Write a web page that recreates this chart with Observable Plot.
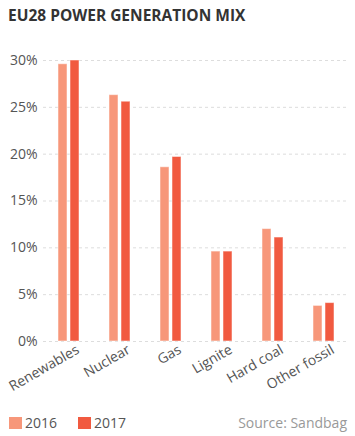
<!DOCTYPE html>
<html>
<head>
<meta charset="utf-8">
<script src="https://cdn.jsdelivr.net/npm/d3@7"></script>
<script src="https://cdn.jsdelivr.net/npm/@observablehq/plot@0.6"></script>
<style>
  body { margin: 0; background: #fff; font-family: "Open Sans", "Noto Sans", sans-serif; }
  #wrap { width: 355px; height: 436px; position: relative; overflow: hidden; }
  #title { position: absolute; left: 8px; top: 4px; font-size: 15.5px; font-weight: 700; color: #333; letter-spacing: 0; }
  #chart { position: absolute; left: 0; top: 30px; }
  #legend { position: absolute; left: 9px; top: 413px; width: 338px; font-size: 14px; color: #555; display: flex; align-items: center; }
  .sw { display: inline-block; width: 13px; height: 12px; margin-right: 3px; }
  .item { display: inline-flex; align-items: center; margin-right: 21px; }
  #source { margin-left: auto; color: #999; }
</style>
</head>
<body>
<div id="wrap">
  <div id="title">EU28 POWER GENERATION MIX</div>
  <div id="chart"></div>
  <div id="legend"></div>
</div>
<script>
const categories = ["Renewables", "Nuclear", "Gas", "Lignite", "Hard coal", "Other fossil"];
const years = ["2016", "2017"];
const values2016 = [29.6, 26.3, 18.6, 9.6, 12.0, 3.8];
const values2017 = [30.0, 25.6, 19.7, 9.6, 11.1, 4.1];
const colors = ["#f7977a", "#f15a40"];
const yTicks = [0, 5, 10, 15, 20, 25, 30];

const data = [];
categories.forEach((c, i) => {
  data.push({cat: c, year: years[0], v: values2016[i]});
  data.push({cat: c, year: years[1], v: values2017[i]});
});

const chart = Plot.plot({
  width: 355,
  height: 380,
  marginTop: 30,
  marginBottom: 69,
  marginLeft: 43,
  marginRight: 6,
  style: {fontFamily: "'Open Sans', 'Noto Sans', sans-serif", fontSize: "14px", color: "#555", background: "transparent", overflow: "visible"},
  x: {domain: categories, padding: 0, label: null},
  y: {domain: [0, 30], ticks: yTicks, label: null},
  color: {domain: years, range: colors},
  marks: [
    Plot.ruleY(yTicks, {stroke: "#ddd", strokeDasharray: "3,3", strokeWidth: 1}),
    Plot.barY(data.filter(d => d.year === years[0]), {x: "cat", y: "v", fill: d => d.year, dx: -6, insetLeft: 21, insetRight: 21, stroke: "#fff", strokeOpacity: 0.5, strokeWidth: 1}),
    Plot.barY(data.filter(d => d.year === years[1]), {x: "cat", y: "v", fill: d => d.year, dx: 6, insetLeft: 21, insetRight: 21, stroke: "#fff", strokeOpacity: 0.5, strokeWidth: 1}),
    Plot.axisY(yTicks, {tickSize: 0, tickPadding: 6, tickFormat: d => d + "%", fill: "#555", fontSize: 14}),
    Plot.axisX({tickSize: 0, tickRotate: -30, tickPadding: 7, dx: 9, fill: "#555", fontSize: 14, label: null})
  ]
});
document.getElementById("chart").appendChild(chart);

const legend = document.getElementById("legend");
years.forEach((y, i) => {
  const it = document.createElement("span");
  it.className = "item";
  it.innerHTML = `<span class="sw" style="background:${colors[i]}"></span>${y}`;
  legend.appendChild(it);
});
const src = document.createElement("span");
src.id = "source";
src.textContent = "Source: Sandbag";
legend.appendChild(src);
</script>
</body>
</html>
